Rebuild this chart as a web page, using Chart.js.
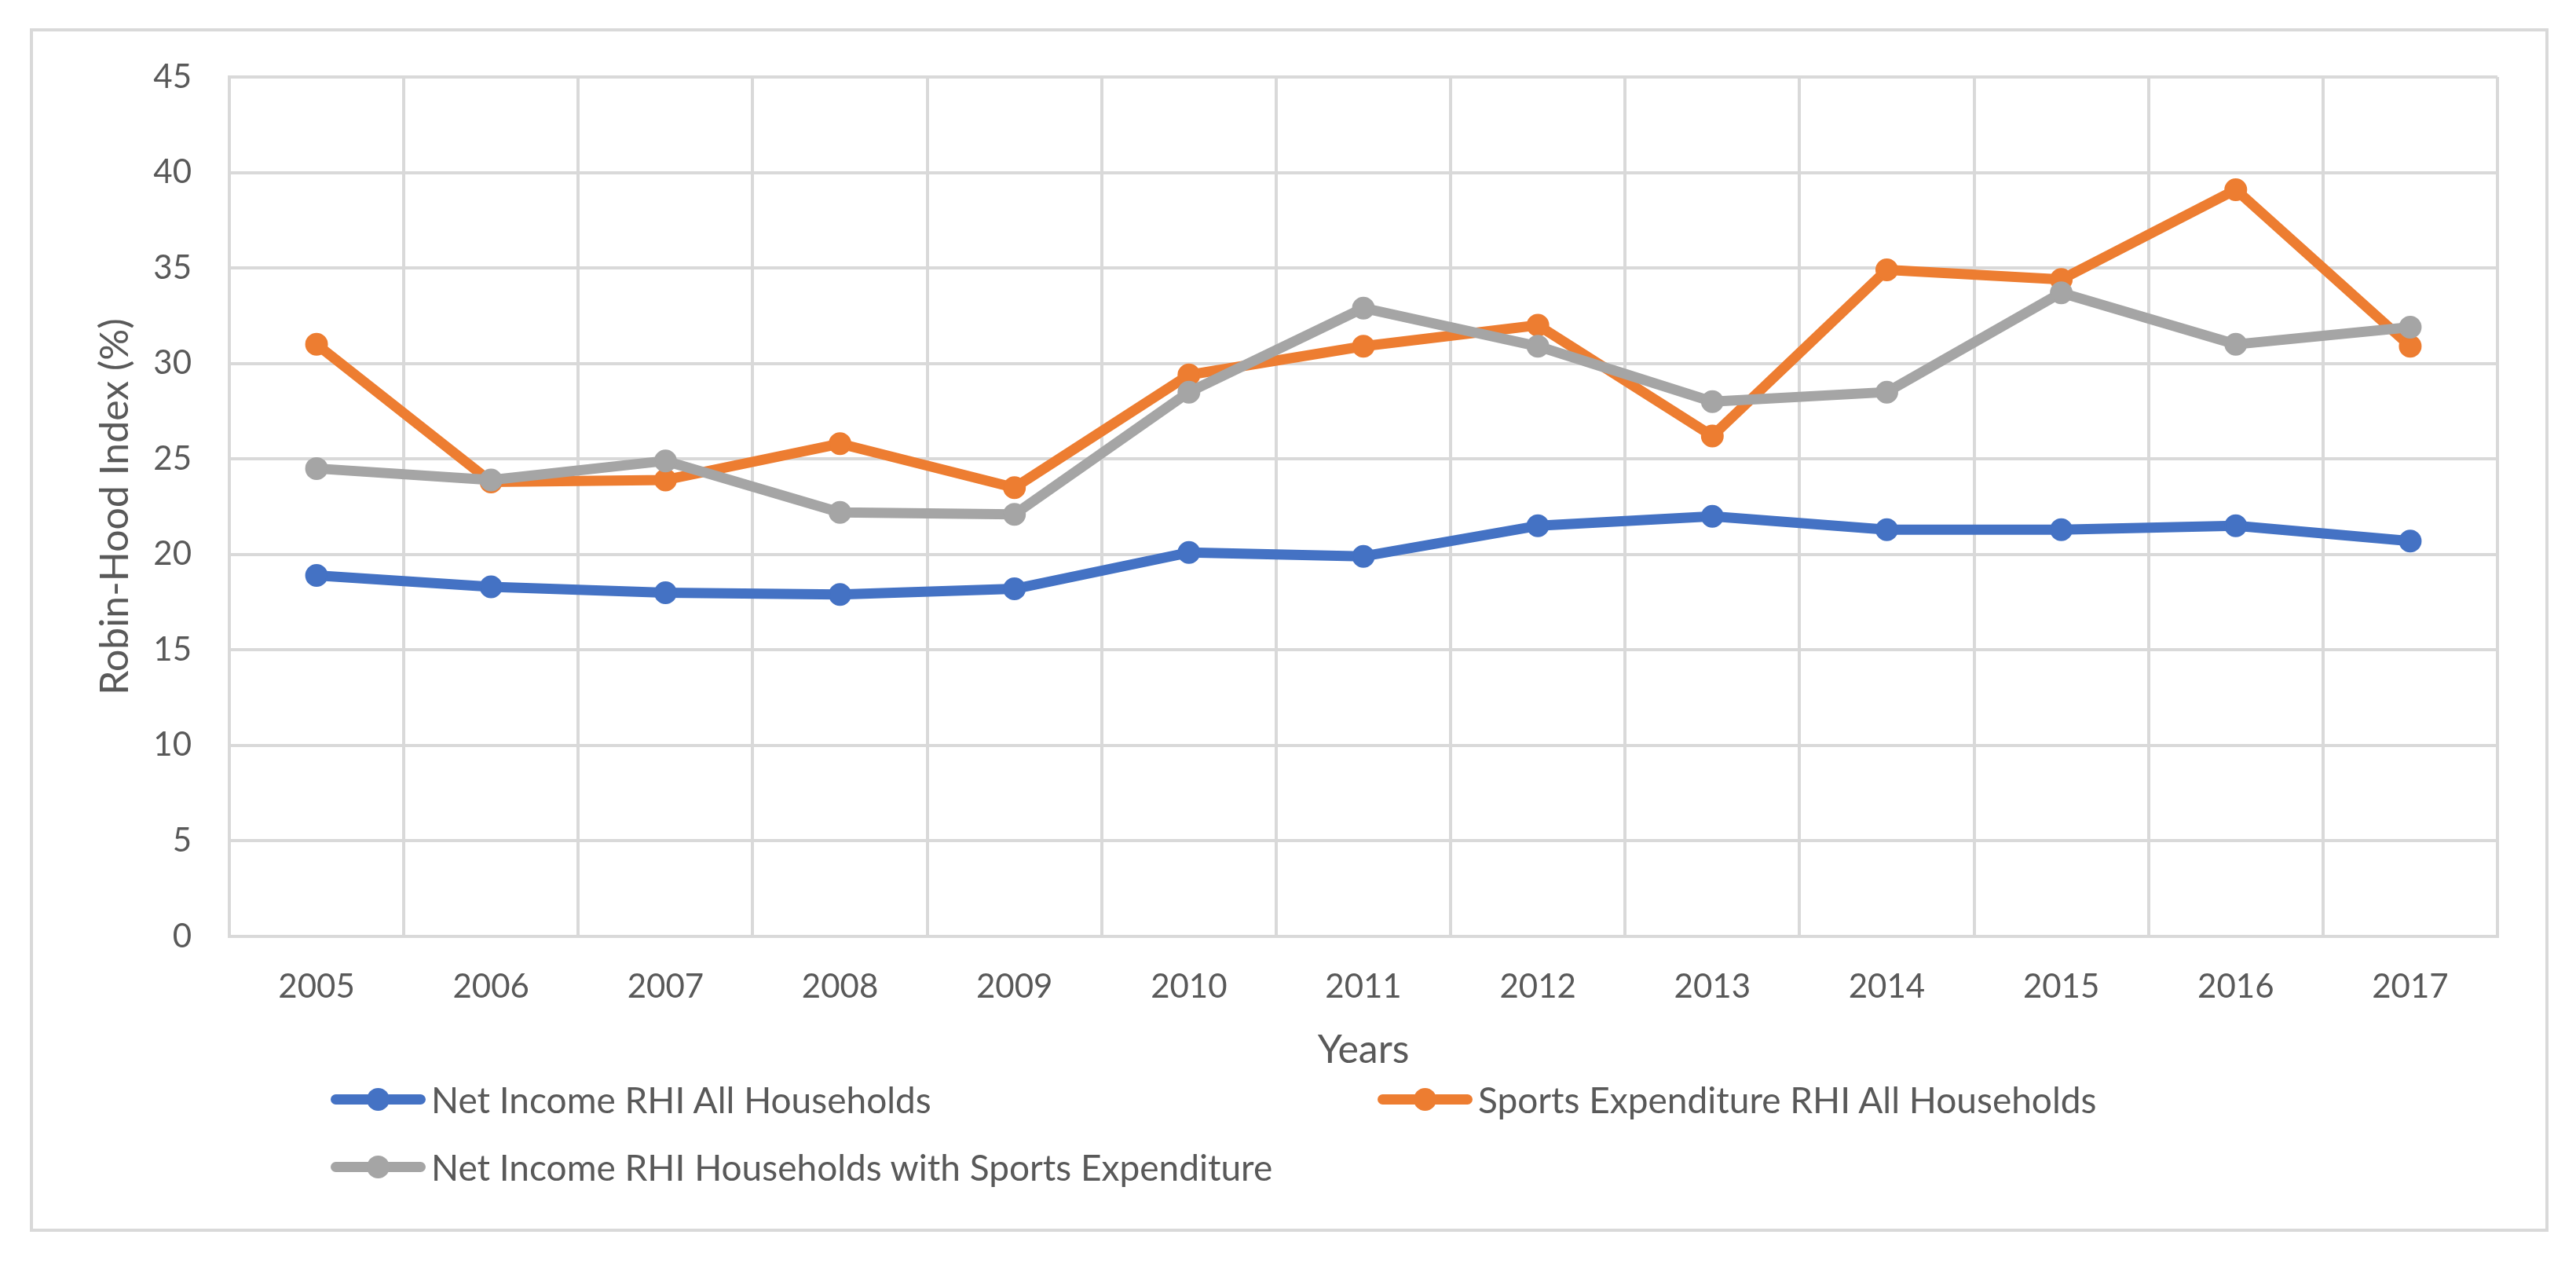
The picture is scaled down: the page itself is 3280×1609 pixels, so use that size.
<!DOCTYPE html>
<html>
<head>
<meta charset="utf-8">
<script src="https://cdn.jsdelivr.net/npm/chart.js@4/dist/chart.umd.min.js"></script>
<style>
  html, body { margin: 0; padding: 0; background: #ffffff; }
  #wrap { position: relative; width: 3280px; height: 1609px; overflow: hidden; background: #fff; }
  #frame { position: absolute; left: 38px; top: 36px; width: 3207px; height: 1532px;
           border: 4px solid #D9D9D9; box-sizing: border-box; }
  #chart { position: absolute; left: 0; top: 0; }
  .item { position: absolute; display: flex; align-items: center; height: 60px; }
  .sym { position: relative; width: 121px; height: 30px; flex: none; }
  .sym .ln { position: absolute; left: 0; right: 0; top: 8.5px; height: 13px; border-radius: 6.5px; }
  .sym .dot { position: absolute; left: 45.5px; top: 0.5px; width: 29px; height: 29px; border-radius: 50%; }
  .txt { margin-left: 7px; font-family: Lato, "Open Sans", sans-serif; font-size: 46px; color: #595959; white-space: nowrap; }
</style>
</head>
<body>
<div id="wrap">
  <div id="frame"></div>
  <canvas id="chart" width="3280" height="1609"></canvas>
  <div id="legend"></div>
</div>
<script>
// ---- data ----
const years = ['2005','2006','2007','2008','2009','2010','2011','2012','2013','2014','2015','2016','2017'];
const netIncomeAll    = [18.9, 18.3, 18.0, 17.9, 18.2, 20.1, 19.9, 21.5, 22.0, 21.3, 21.3, 21.5, 20.7];
const sportsExpAll    = [31.0, 23.8, 23.9, 25.8, 23.5, 29.4, 30.9, 32.0, 26.2, 34.9, 34.4, 39.1, 30.9];
const netIncomeSports = [24.5, 23.9, 24.9, 22.2, 22.1, 28.5, 32.9, 30.9, 28.0, 28.5, 33.7, 31.0, 31.9];
const seriesNames  = ['Net Income RHI All Households', 'Sports Expenditure RHI All Households', 'Net Income RHI Households with Sports Expenditure'];
const seriesColors = ['#4472C4', '#ED7D31', '#A5A5A5'];
const yMin = 0, yMax = 45, yStep = 5;
const xTitle = 'Years';
const yTitle = 'Robin-Hood Index (%)';

// ---- chart ----
const FONT = 'Lato, "Open Sans", sans-serif';
const TXT = '#595959';
const GRID = '#D9D9D9';
const seriesData = [netIncomeAll, sportsExpAll, netIncomeSports];

const datasets = seriesData.map((d, i) => ({
  label: seriesNames[i],
  data: d,
  borderColor: seriesColors[i],
  backgroundColor: seriesColors[i],
  pointBackgroundColor: seriesColors[i],
  pointBorderColor: seriesColors[i],
  borderWidth: 13,
  pointRadius: 13.5,
  pointBorderWidth: 2,
  pointHoverRadius: 13.5,
  tension: 0,
  borderCapStyle: 'round',
  borderJoinStyle: 'round',
  fill: false,
  order: 3 - i
}));

new Chart(document.getElementById('chart'), {
  type: 'line',
  data: { labels: years, datasets },
  options: {
    responsive: false,
    animation: false,
    events: [],
    layout: { padding: { left: 100, right: 100, top: 98, bottom: 237 } },
    plugins: { legend: { display: false }, tooltip: { enabled: false } },
    scales: {
      x: {
        type: 'category',
        offset: true,
        grid: { color: GRID, lineWidth: 4, offset: true, drawTicks: false },
        border: { display: true, color: GRID, width: 4 },
        ticks: { padding: 39, color: TXT, font: { family: FONT, size: 42 }, maxRotation: 0, autoSkip: false },
        title: { display: true, text: xTitle, color: TXT, font: { family: FONT, size: 50 }, padding: { top: 0, bottom: 5 } },
        afterFit(s) { s.height = 180; }
      },
      y: {
        min: yMin, max: yMax,
        grid: { color: GRID, lineWidth: 4, drawTicks: false },
        border: { display: true, color: GRID, width: 4 },
        ticks: { stepSize: yStep, padding: 48, color: TXT, font: { family: FONT, size: 42 } },
        title: { display: true, text: yTitle, color: TXT, font: { family: FONT, size: 50 }, padding: { top: 17, bottom: 0 } },
        afterFit(s) { s.width = 192; }
      }
    }
  }
});

// ---- legend (HTML, real text) ----
const legendPos = [ {x: 421, y: 1399}, {x: 1754, y: 1399}, {x: 421, y: 1485} ];
const legend = document.getElementById('legend');
seriesNames.forEach((name, i) => {
  const it = document.createElement('div');
  it.className = 'item';
  it.style.left = legendPos[i].x + 'px';
  it.style.top = (legendPos[i].y - 30) + 'px';
  it.innerHTML = '<div class="sym"><div class="ln" style="background:' + seriesColors[i] + '"></div>' +
                 '<div class="dot" style="background:' + seriesColors[i] + '"></div></div>' +
                 '<span class="txt"></span>';
  it.querySelector('.txt').textContent = name;
  legend.appendChild(it);
});
</script>
</body>
</html>
